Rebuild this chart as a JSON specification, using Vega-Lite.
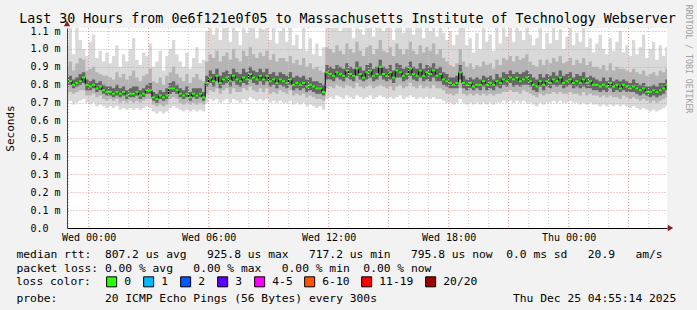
{
"$schema":"https://vega.github.io/schema/vega-lite/v6.json",
"width":600,"height":200,
"autosize":{"type":"none"},
"padding":{"left":67,"top":28,"right":30,"bottom":82},
"background":"#f2f2f2",
"config":{"view":{"fill":"#ffffff","stroke":null},"font":"DejaVu Sans Mono"},
"title":{"text":"Last 30 Hours from 0e6f121e0f05 to Massachusetts Institute of Technology Webserver","font":"DejaVu Sans Mono","fontSize":13.3,"fontWeight":"normal","color":"#000000","anchor":"middle","frame":"group","dx":-19.5,"dy":24,"offset":4},
"data":{"values":[
{"t":"2025-12-23T22:50","a":0.70,"b":0.75,"c":0.79,"m":0.81,"d":0.84,"e":0.90,"f":1.02},
{"t":"2025-12-23T23:00","a":0.71,"b":0.76,"c":0.80,"m":0.82,"d":0.85,"e":0.93,"f":1.12},
{"t":"2025-12-23T23:10","a":0.69,"b":0.75,"c":0.78,"m":0.80,"d":0.83,"e":0.88,"f":0.97},
{"t":"2025-12-23T23:20","a":0.70,"b":0.76,"c":0.79,"m":0.81,"d":0.84,"e":0.92,"f":1.13},
{"t":"2025-12-23T23:30","a":0.71,"b":0.77,"c":0.80,"m":0.82,"d":0.86,"e":0.95,"f":1.05},
{"t":"2025-12-23T23:40","a":0.72,"b":0.77,"c":0.81,"m":0.84,"d":0.87,"e":0.94,"f":1.00},
{"t":"2025-12-23T23:50","a":0.70,"b":0.74,"c":0.77,"m":0.80,"d":0.83,"e":0.88,"f":0.96},
{"t":"2025-12-24T00:00","a":0.69,"b":0.74,"c":0.77,"m":0.79,"d":0.82,"e":0.89,"f":1.04},
{"t":"2025-12-24T00:10","a":0.70,"b":0.75,"c":0.78,"m":0.80,"d":0.83,"e":0.90,"f":1.08},
{"t":"2025-12-24T00:20","a":0.68,"b":0.73,"c":0.76,"m":0.78,"d":0.81,"e":0.87,"f":0.95},
{"t":"2025-12-24T00:30","a":0.69,"b":0.74,"c":0.77,"m":0.79,"d":0.82,"e":0.86,"f":0.99},
{"t":"2025-12-24T00:40","a":0.68,"b":0.72,"c":0.75,"m":0.77,"d":0.80,"e":0.85,"f":0.93},
{"t":"2025-12-24T00:50","a":0.67,"b":0.71,"c":0.74,"m":0.76,"d":0.79,"e":0.85,"f":0.98},
{"t":"2025-12-24T01:00","a":0.68,"b":0.72,"c":0.74,"m":0.76,"d":0.79,"e":0.84,"f":0.92},
{"t":"2025-12-24T01:10","a":0.67,"b":0.71,"c":0.73,"m":0.75,"d":0.78,"e":0.83,"f":0.96},
{"t":"2025-12-24T01:20","a":0.68,"b":0.72,"c":0.74,"m":0.76,"d":0.80,"e":0.87,"f":1.02},
{"t":"2025-12-24T01:30","a":0.66,"b":0.70,"c":0.73,"m":0.75,"d":0.78,"e":0.84,"f":0.90},
{"t":"2025-12-24T01:40","a":0.67,"b":0.71,"c":0.74,"m":0.76,"d":0.79,"e":0.86,"f":0.97},
{"t":"2025-12-24T01:50","a":0.66,"b":0.70,"c":0.72,"m":0.74,"d":0.77,"e":0.83,"f":0.93},
{"t":"2025-12-24T02:00","a":0.67,"b":0.71,"c":0.73,"m":0.75,"d":0.78,"e":0.85,"f":1.00},
{"t":"2025-12-24T02:10","a":0.66,"b":0.70,"c":0.73,"m":0.75,"d":0.79,"e":0.88,"f":1.06},
{"t":"2025-12-24T02:20","a":0.67,"b":0.71,"c":0.74,"m":0.76,"d":0.79,"e":0.84,"f":0.94},
{"t":"2025-12-24T02:30","a":0.66,"b":0.70,"c":0.72,"m":0.74,"d":0.77,"e":0.82,"f":0.91},
{"t":"2025-12-24T02:40","a":0.67,"b":0.71,"c":0.73,"m":0.75,"d":0.78,"e":0.85,"f":0.98},
{"t":"2025-12-24T02:50","a":0.68,"b":0.72,"c":0.75,"m":0.77,"d":0.80,"e":0.86,"f":0.96},
{"t":"2025-12-24T03:00","a":0.67,"b":0.72,"c":0.75,"m":0.77,"d":0.81,"e":0.89,"f":1.03},
{"t":"2025-12-24T03:10","a":0.65,"b":0.69,"c":0.71,"m":0.73,"d":0.76,"e":0.82,"f":0.90},
{"t":"2025-12-24T03:20","a":0.64,"b":0.68,"c":0.70,"m":0.72,"d":0.75,"e":0.81,"f":0.93},
{"t":"2025-12-24T03:30","a":0.65,"b":0.69,"c":0.72,"m":0.74,"d":0.77,"e":0.84,"f":0.99},
{"t":"2025-12-24T03:40","a":0.64,"b":0.68,"c":0.71,"m":0.73,"d":0.76,"e":0.80,"f":0.88},
{"t":"2025-12-24T03:50","a":0.65,"b":0.69,"c":0.72,"m":0.74,"d":0.78,"e":0.85,"f":0.96},
{"t":"2025-12-24T04:00","a":0.67,"b":0.72,"c":0.75,"m":0.78,"d":0.81,"e":0.87,"f":1.00},
{"t":"2025-12-24T04:10","a":0.68,"b":0.73,"c":0.76,"m":0.78,"d":0.82,"e":0.90,"f":1.05},
{"t":"2025-12-24T04:20","a":0.67,"b":0.72,"c":0.75,"m":0.77,"d":0.80,"e":0.86,"f":0.97},
{"t":"2025-12-24T04:30","a":0.66,"b":0.70,"c":0.73,"m":0.75,"d":0.78,"e":0.84,"f":0.93},
{"t":"2025-12-24T04:40","a":0.65,"b":0.69,"c":0.72,"m":0.74,"d":0.77,"e":0.82,"f":0.90},
{"t":"2025-12-24T04:50","a":0.66,"b":0.70,"c":0.73,"m":0.75,"d":0.79,"e":0.86,"f":0.98},
{"t":"2025-12-24T05:00","a":0.65,"b":0.69,"c":0.71,"m":0.73,"d":0.76,"e":0.81,"f":0.89},
{"t":"2025-12-24T05:10","a":0.66,"b":0.70,"c":0.73,"m":0.75,"d":0.78,"e":0.84,"f":0.95},
{"t":"2025-12-24T05:20","a":0.65,"b":0.69,"c":0.72,"m":0.74,"d":0.78,"e":0.86,"f":1.01},
{"t":"2025-12-24T05:30","a":0.66,"b":0.70,"c":0.73,"m":0.75,"d":0.78,"e":0.83,"f":0.92},
{"t":"2025-12-24T05:40","a":0.65,"b":0.69,"c":0.71,"m":0.73,"d":0.76,"e":0.82,"f":0.94},
{"t":"2025-12-24T05:50","a":0.70,"b":0.75,"c":0.79,"m":0.81,"d":0.85,"e":0.93,"f":1.10},
{"t":"2025-12-24T06:00","a":0.72,"b":0.77,"c":0.81,"m":0.84,"d":0.88,"e":0.97,"f":1.15},
{"t":"2025-12-24T06:10","a":0.71,"b":0.76,"c":0.79,"m":0.82,"d":0.86,"e":0.95,"f":1.08},
{"t":"2025-12-24T06:20","a":0.72,"b":0.78,"c":0.82,"m":0.85,"d":0.89,"e":0.99,"f":1.15},
{"t":"2025-12-24T06:30","a":0.70,"b":0.75,"c":0.78,"m":0.81,"d":0.85,"e":0.93,"f":1.05},
{"t":"2025-12-24T06:40","a":0.71,"b":0.77,"c":0.80,"m":0.83,"d":0.87,"e":0.96,"f":1.15},
{"t":"2025-12-24T06:50","a":0.72,"b":0.78,"c":0.81,"m":0.84,"d":0.88,"e":0.98,"f":1.12},
{"t":"2025-12-24T07:00","a":0.70,"b":0.75,"c":0.79,"m":0.82,"d":0.86,"e":0.94,"f":1.04},
{"t":"2025-12-24T07:10","a":0.72,"b":0.78,"c":0.82,"m":0.85,"d":0.89,"e":1.00,"f":1.15},
{"t":"2025-12-24T07:20","a":0.71,"b":0.76,"c":0.80,"m":0.83,"d":0.87,"e":0.95,"f":1.10},
{"t":"2025-12-24T07:30","a":0.70,"b":0.76,"c":0.79,"m":0.82,"d":0.86,"e":0.93,"f":1.02},
{"t":"2025-12-24T07:40","a":0.72,"b":0.78,"c":0.81,"m":0.84,"d":0.89,"e":0.99,"f":1.15},
{"t":"2025-12-24T07:50","a":0.71,"b":0.77,"c":0.80,"m":0.83,"d":0.87,"e":0.96,"f":1.09},
{"t":"2025-12-24T08:00","a":0.73,"b":0.79,"c":0.83,"m":0.86,"d":0.90,"e":1.01,"f":1.15},
{"t":"2025-12-24T08:10","a":0.72,"b":0.77,"c":0.81,"m":0.84,"d":0.88,"e":0.97,"f":1.13},
{"t":"2025-12-24T08:20","a":0.71,"b":0.76,"c":0.80,"m":0.83,"d":0.87,"e":0.95,"f":1.06},
{"t":"2025-12-24T08:30","a":0.72,"b":0.78,"c":0.82,"m":0.85,"d":0.89,"e":0.98,"f":1.15},
{"t":"2025-12-24T08:40","a":0.71,"b":0.76,"c":0.80,"m":0.83,"d":0.87,"e":0.96,"f":1.11},
{"t":"2025-12-24T08:50","a":0.72,"b":0.78,"c":0.82,"m":0.85,"d":0.89,"e":0.99,"f":1.15},
{"t":"2025-12-24T09:00","a":0.70,"b":0.75,"c":0.79,"m":0.82,"d":0.86,"e":0.94,"f":1.05},
{"t":"2025-12-24T09:10","a":0.71,"b":0.76,"c":0.80,"m":0.83,"d":0.87,"e":0.97,"f":1.14},
{"t":"2025-12-24T09:20","a":0.70,"b":0.75,"c":0.78,"m":0.81,"d":0.85,"e":0.93,"f":1.03},
{"t":"2025-12-24T09:30","a":0.71,"b":0.77,"c":0.80,"m":0.83,"d":0.87,"e":0.95,"f":1.10},
{"t":"2025-12-24T09:40","a":0.70,"b":0.76,"c":0.79,"m":0.82,"d":0.86,"e":0.95,"f":1.12},
{"t":"2025-12-24T09:50","a":0.70,"b":0.75,"c":0.78,"m":0.81,"d":0.85,"e":0.93,"f":1.04},
{"t":"2025-12-24T10:00","a":0.71,"b":0.77,"c":0.80,"m":0.83,"d":0.87,"e":0.96,"f":1.15},
{"t":"2025-12-24T10:10","a":0.69,"b":0.74,"c":0.77,"m":0.80,"d":0.84,"e":0.92,"f":1.02},
{"t":"2025-12-24T10:20","a":0.70,"b":0.75,"c":0.78,"m":0.81,"d":0.85,"e":0.94,"f":1.08},
{"t":"2025-12-24T10:30","a":0.69,"b":0.74,"c":0.77,"m":0.80,"d":0.84,"e":0.91,"f":1.00},
{"t":"2025-12-24T10:40","a":0.70,"b":0.75,"c":0.78,"m":0.81,"d":0.85,"e":0.95,"f":1.12},
{"t":"2025-12-24T10:50","a":0.68,"b":0.73,"c":0.76,"m":0.79,"d":0.83,"e":0.90,"f":0.99},
{"t":"2025-12-24T11:00","a":0.69,"b":0.74,"c":0.77,"m":0.80,"d":0.84,"e":0.92,"f":1.06},
{"t":"2025-12-24T11:10","a":0.68,"b":0.73,"c":0.76,"m":0.79,"d":0.82,"e":0.89,"f":0.97},
{"t":"2025-12-24T11:20","a":0.67,"b":0.72,"c":0.75,"m":0.78,"d":0.82,"e":0.90,"f":1.03},
{"t":"2025-12-24T11:30","a":0.68,"b":0.72,"c":0.75,"m":0.78,"d":0.81,"e":0.88,"f":0.96},
{"t":"2025-12-24T11:40","a":0.66,"b":0.71,"c":0.74,"m":0.76,"d":0.80,"e":0.87,"f":1.01},
{"t":"2025-12-24T11:50","a":0.72,"b":0.78,"c":0.83,"m":0.87,"d":0.91,"e":1.01,"f":1.15},
{"t":"2025-12-24T12:00","a":0.73,"b":0.79,"c":0.83,"m":0.86,"d":0.90,"e":1.00,"f":1.15},
{"t":"2025-12-24T12:10","a":0.72,"b":0.78,"c":0.82,"m":0.85,"d":0.89,"e":0.98,"f":1.12},
{"t":"2025-12-24T12:20","a":0.74,"b":0.80,"c":0.84,"m":0.87,"d":0.91,"e":1.02,"f":1.15},
{"t":"2025-12-24T12:30","a":0.73,"b":0.79,"c":0.83,"m":0.86,"d":0.90,"e":0.99,"f":1.10},
{"t":"2025-12-24T12:40","a":0.72,"b":0.78,"c":0.82,"m":0.85,"d":0.89,"e":0.97,"f":1.15},
{"t":"2025-12-24T12:50","a":0.74,"b":0.80,"c":0.84,"m":0.88,"d":0.92,"e":1.03,"f":1.15},
{"t":"2025-12-24T13:00","a":0.73,"b":0.79,"c":0.83,"m":0.86,"d":0.90,"e":1.00,"f":1.13},
{"t":"2025-12-24T13:10","a":0.72,"b":0.78,"c":0.82,"m":0.85,"d":0.89,"e":0.98,"f":1.06},
{"t":"2025-12-24T13:20","a":0.74,"b":0.81,"c":0.85,"m":0.89,"d":0.93,"e":1.04,"f":1.15},
{"t":"2025-12-24T13:30","a":0.73,"b":0.79,"c":0.83,"m":0.86,"d":0.90,"e":0.99,"f":1.11},
{"t":"2025-12-24T13:40","a":0.72,"b":0.78,"c":0.82,"m":0.84,"d":0.88,"e":0.96,"f":1.08},
{"t":"2025-12-24T13:50","a":0.73,"b":0.79,"c":0.83,"m":0.87,"d":0.91,"e":1.01,"f":1.15},
{"t":"2025-12-24T14:00","a":0.74,"b":0.80,"c":0.84,"m":0.88,"d":0.92,"e":1.02,"f":1.15},
{"t":"2025-12-24T14:10","a":0.72,"b":0.78,"c":0.82,"m":0.85,"d":0.89,"e":0.97,"f":1.07},
{"t":"2025-12-24T14:20","a":0.73,"b":0.79,"c":0.83,"m":0.86,"d":0.90,"e":1.00,"f":1.14},
{"t":"2025-12-24T14:30","a":0.74,"b":0.80,"c":0.85,"m":0.90,"d":0.94,"e":1.05,"f":1.15},
{"t":"2025-12-24T14:40","a":0.73,"b":0.79,"c":0.83,"m":0.86,"d":0.90,"e":0.99,"f":1.10},
{"t":"2025-12-24T14:50","a":0.72,"b":0.78,"c":0.82,"m":0.85,"d":0.89,"e":0.98,"f":1.15},
{"t":"2025-12-24T15:00","a":0.73,"b":0.79,"c":0.83,"m":0.87,"d":0.91,"e":1.01,"f":1.12},
{"t":"2025-12-24T15:10","a":0.72,"b":0.77,"c":0.81,"m":0.84,"d":0.88,"e":0.96,"f":1.05},
{"t":"2025-12-24T15:20","a":0.73,"b":0.79,"c":0.84,"m":0.88,"d":0.92,"e":1.03,"f":1.15},
{"t":"2025-12-24T15:30","a":0.74,"b":0.80,"c":0.84,"m":0.87,"d":0.91,"e":1.00,"f":1.13},
{"t":"2025-12-24T15:40","a":0.72,"b":0.78,"c":0.82,"m":0.85,"d":0.89,"e":0.97,"f":1.09},
{"t":"2025-12-24T15:50","a":0.73,"b":0.79,"c":0.83,"m":0.86,"d":0.90,"e":1.00,"f":1.15},
{"t":"2025-12-24T16:00","a":0.74,"b":0.81,"c":0.85,"m":0.89,"d":0.93,"e":1.04,"f":1.15},
{"t":"2025-12-24T16:10","a":0.73,"b":0.79,"c":0.83,"m":0.86,"d":0.90,"e":0.99,"f":1.08},
{"t":"2025-12-24T16:20","a":0.72,"b":0.78,"c":0.82,"m":0.85,"d":0.89,"e":0.97,"f":1.12},
{"t":"2025-12-24T16:30","a":0.73,"b":0.80,"c":0.84,"m":0.88,"d":0.92,"e":1.02,"f":1.15},
{"t":"2025-12-24T16:40","a":0.72,"b":0.78,"c":0.82,"m":0.85,"d":0.89,"e":0.98,"f":1.06},
{"t":"2025-12-24T16:50","a":0.73,"b":0.79,"c":0.83,"m":0.87,"d":0.91,"e":1.01,"f":1.15},
{"t":"2025-12-24T17:00","a":0.72,"b":0.78,"c":0.82,"m":0.86,"d":0.90,"e":0.99,"f":1.10},
{"t":"2025-12-24T17:10","a":0.73,"b":0.80,"c":0.84,"m":0.88,"d":0.92,"e":1.03,"f":1.15},
{"t":"2025-12-24T17:20","a":0.72,"b":0.78,"c":0.82,"m":0.85,"d":0.89,"e":0.97,"f":1.07},
{"t":"2025-12-24T17:30","a":0.72,"b":0.78,"c":0.82,"m":0.86,"d":0.90,"e":1.00,"f":1.14},
{"t":"2025-12-24T17:40","a":0.71,"b":0.77,"c":0.80,"m":0.83,"d":0.87,"e":0.95,"f":1.09},
{"t":"2025-12-24T17:50","a":0.70,"b":0.75,"c":0.79,"m":0.82,"d":0.86,"e":0.93,"f":1.05},
{"t":"2025-12-24T18:00","a":0.70,"b":0.75,"c":0.78,"m":0.81,"d":0.84,"e":0.91,"f":1.10},
{"t":"2025-12-24T18:10","a":0.69,"b":0.74,"c":0.78,"m":0.80,"d":0.84,"e":0.90,"f":1.02},
{"t":"2025-12-24T18:20","a":0.70,"b":0.75,"c":0.78,"m":0.81,"d":0.85,"e":0.92,"f":1.08},
{"t":"2025-12-24T18:30","a":0.72,"b":0.78,"c":0.83,"m":0.87,"d":0.91,"e":1.00,"f":1.15},
{"t":"2025-12-24T18:40","a":0.70,"b":0.75,"c":0.78,"m":0.81,"d":0.85,"e":0.93,"f":1.12},
{"t":"2025-12-24T18:50","a":0.69,"b":0.74,"c":0.77,"m":0.80,"d":0.83,"e":0.90,"f":1.02},
{"t":"2025-12-24T19:00","a":0.70,"b":0.75,"c":0.78,"m":0.81,"d":0.84,"e":0.92,"f":1.06},
{"t":"2025-12-24T19:10","a":0.69,"b":0.74,"c":0.77,"m":0.79,"d":0.83,"e":0.89,"f":0.98},
{"t":"2025-12-24T19:20","a":0.70,"b":0.75,"c":0.78,"m":0.80,"d":0.84,"e":0.91,"f":1.09},
{"t":"2025-12-24T19:30","a":0.69,"b":0.74,"c":0.77,"m":0.80,"d":0.83,"e":0.90,"f":1.00},
{"t":"2025-12-24T19:40","a":0.70,"b":0.75,"c":0.79,"m":0.82,"d":0.85,"e":0.93,"f":1.13},
{"t":"2025-12-24T19:50","a":0.69,"b":0.74,"c":0.77,"m":0.80,"d":0.84,"e":0.91,"f":1.04},
{"t":"2025-12-24T20:00","a":0.70,"b":0.75,"c":0.78,"m":0.81,"d":0.85,"e":0.92,"f":1.08},
{"t":"2025-12-24T20:10","a":0.69,"b":0.74,"c":0.77,"m":0.80,"d":0.83,"e":0.89,"f":0.99},
{"t":"2025-12-24T20:20","a":0.70,"b":0.75,"c":0.79,"m":0.82,"d":0.86,"e":0.94,"f":1.12},
{"t":"2025-12-24T20:30","a":0.70,"b":0.75,"c":0.78,"m":0.81,"d":0.84,"e":0.91,"f":1.03},
{"t":"2025-12-24T20:40","a":0.71,"b":0.76,"c":0.80,"m":0.83,"d":0.87,"e":0.95,"f":1.15},
{"t":"2025-12-24T20:50","a":0.70,"b":0.76,"c":0.79,"m":0.82,"d":0.86,"e":0.94,"f":1.07},
{"t":"2025-12-24T21:00","a":0.71,"b":0.77,"c":0.81,"m":0.84,"d":0.88,"e":0.96,"f":1.13},
{"t":"2025-12-24T21:10","a":0.70,"b":0.76,"c":0.79,"m":0.83,"d":0.86,"e":0.93,"f":1.04},
{"t":"2025-12-24T21:20","a":0.71,"b":0.76,"c":0.80,"m":0.84,"d":0.87,"e":0.96,"f":1.15},
{"t":"2025-12-24T21:30","a":0.70,"b":0.75,"c":0.79,"m":0.82,"d":0.86,"e":0.94,"f":1.10},
{"t":"2025-12-24T21:40","a":0.71,"b":0.77,"c":0.80,"m":0.83,"d":0.87,"e":0.95,"f":1.05},
{"t":"2025-12-24T21:50","a":0.70,"b":0.76,"c":0.80,"m":0.84,"d":0.88,"e":0.97,"f":1.15},
{"t":"2025-12-24T22:00","a":0.70,"b":0.75,"c":0.79,"m":0.82,"d":0.86,"e":0.93,"f":1.08},
{"t":"2025-12-24T22:10","a":0.69,"b":0.74,"c":0.77,"m":0.80,"d":0.84,"e":0.91,"f":1.02},
{"t":"2025-12-24T22:20","a":0.68,"b":0.73,"c":0.76,"m":0.79,"d":0.83,"e":0.90,"f":1.06},
{"t":"2025-12-24T22:30","a":0.70,"b":0.75,"c":0.79,"m":0.82,"d":0.86,"e":0.94,"f":1.12},
{"t":"2025-12-24T22:40","a":0.69,"b":0.74,"c":0.77,"m":0.80,"d":0.84,"e":0.91,"f":1.00},
{"t":"2025-12-24T22:50","a":0.70,"b":0.75,"c":0.79,"m":0.82,"d":0.86,"e":0.94,"f":1.09},
{"t":"2025-12-24T23:00","a":0.70,"b":0.75,"c":0.78,"m":0.81,"d":0.85,"e":0.92,"f":1.03},
{"t":"2025-12-24T23:10","a":0.71,"b":0.76,"c":0.80,"m":0.83,"d":0.87,"e":0.95,"f":1.14},
{"t":"2025-12-24T23:20","a":0.70,"b":0.75,"c":0.79,"m":0.82,"d":0.85,"e":0.93,"f":1.05},
{"t":"2025-12-24T23:30","a":0.71,"b":0.76,"c":0.80,"m":0.84,"d":0.88,"e":0.96,"f":1.11},
{"t":"2025-12-24T23:40","a":0.70,"b":0.75,"c":0.78,"m":0.81,"d":0.85,"e":0.92,"f":1.00},
{"t":"2025-12-24T23:50","a":0.70,"b":0.75,"c":0.79,"m":0.82,"d":0.86,"e":0.93,"f":1.07},
{"t":"2025-12-25T00:00","a":0.71,"b":0.76,"c":0.80,"m":0.83,"d":0.87,"e":0.95,"f":1.12},
{"t":"2025-12-25T00:10","a":0.70,"b":0.75,"c":0.78,"m":0.81,"d":0.84,"e":0.91,"f":1.02},
{"t":"2025-12-25T00:20","a":0.70,"b":0.75,"c":0.79,"m":0.82,"d":0.86,"e":0.94,"f":1.09},
{"t":"2025-12-25T00:30","a":0.69,"b":0.74,"c":0.78,"m":0.81,"d":0.85,"e":0.92,"f":1.04},
{"t":"2025-12-25T00:40","a":0.70,"b":0.76,"c":0.79,"m":0.83,"d":0.87,"e":0.95,"f":1.13},
{"t":"2025-12-25T00:50","a":0.69,"b":0.74,"c":0.78,"m":0.81,"d":0.84,"e":0.91,"f":1.01},
{"t":"2025-12-25T01:00","a":0.70,"b":0.75,"c":0.78,"m":0.82,"d":0.85,"e":0.93,"f":1.06},
{"t":"2025-12-25T01:10","a":0.69,"b":0.74,"c":0.77,"m":0.80,"d":0.84,"e":0.90,"f":0.98},
{"t":"2025-12-25T01:20","a":0.69,"b":0.74,"c":0.77,"m":0.80,"d":0.83,"e":0.90,"f":1.03},
{"t":"2025-12-25T01:30","a":0.68,"b":0.73,"c":0.76,"m":0.79,"d":0.82,"e":0.89,"f":1.08},
{"t":"2025-12-25T01:40","a":0.69,"b":0.74,"c":0.77,"m":0.80,"d":0.84,"e":0.91,"f":1.00},
{"t":"2025-12-25T01:50","a":0.68,"b":0.73,"c":0.76,"m":0.79,"d":0.82,"e":0.88,"f":0.97},
{"t":"2025-12-25T02:00","a":0.69,"b":0.74,"c":0.78,"m":0.81,"d":0.84,"e":0.92,"f":1.06},
{"t":"2025-12-25T02:10","a":0.68,"b":0.73,"c":0.76,"m":0.79,"d":0.82,"e":0.88,"f":0.99},
{"t":"2025-12-25T02:20","a":0.69,"b":0.73,"c":0.77,"m":0.80,"d":0.83,"e":0.90,"f":1.04},
{"t":"2025-12-25T02:30","a":0.68,"b":0.72,"c":0.76,"m":0.78,"d":0.82,"e":0.89,"f":1.10},
{"t":"2025-12-25T02:40","a":0.69,"b":0.74,"c":0.77,"m":0.80,"d":0.83,"e":0.89,"f":0.98},
{"t":"2025-12-25T02:50","a":0.68,"b":0.73,"c":0.76,"m":0.79,"d":0.82,"e":0.88,"f":1.02},
{"t":"2025-12-25T03:00","a":0.67,"b":0.72,"c":0.76,"m":0.78,"d":0.81,"e":0.87,"f":0.96},
{"t":"2025-12-25T03:10","a":0.68,"b":0.73,"c":0.76,"m":0.79,"d":0.83,"e":0.89,"f":1.05},
{"t":"2025-12-25T03:20","a":0.67,"b":0.72,"c":0.75,"m":0.78,"d":0.81,"e":0.87,"f":0.97},
{"t":"2025-12-25T03:30","a":0.66,"b":0.71,"c":0.74,"m":0.77,"d":0.80,"e":0.86,"f":1.01},
{"t":"2025-12-25T03:40","a":0.67,"b":0.72,"c":0.75,"m":0.78,"d":0.81,"e":0.88,"f":1.08},
{"t":"2025-12-25T03:50","a":0.66,"b":0.71,"c":0.74,"m":0.76,"d":0.79,"e":0.85,"f":0.95},
{"t":"2025-12-25T04:00","a":0.65,"b":0.70,"c":0.73,"m":0.76,"d":0.79,"e":0.86,"f":1.00},
{"t":"2025-12-25T04:10","a":0.66,"b":0.71,"c":0.74,"m":0.77,"d":0.80,"e":0.87,"f":1.04},
{"t":"2025-12-25T04:20","a":0.65,"b":0.70,"c":0.73,"m":0.76,"d":0.79,"e":0.85,"f":0.94},
{"t":"2025-12-25T04:30","a":0.66,"b":0.71,"c":0.74,"m":0.77,"d":0.81,"e":0.88,"f":1.02},
{"t":"2025-12-25T04:40","a":0.67,"b":0.72,"c":0.75,"m":0.78,"d":0.81,"e":0.87,"f":0.96},
{"t":"2025-12-25T04:50","a":0.68,"b":0.73,"c":0.77,"m":0.80,"d":0.83,"e":0.89,"f":1.01},
{"t":"2025-12-25T05:00","a":0.68,"b":0.73,"c":0.77,"m":0.80,"d":0.83,"e":0.89,"f":1.01}
]},
"encoding":{
"x":{"field":"t","type":"temporal",
"scale":{"domain":[{"year":2025,"month":12,"date":23,"hours":22,"minutes":55,"seconds":14},{"year":2025,"month":12,"date":25,"hours":4,"minutes":55,"seconds":14}]},
"axis":{"tickCount":30,
"labelExpr":"hours(datum.value) % 6 == 0 ? timeFormat(datum.value, '%a %H:%M') : ''",
"labelOverlap":false,"labelFlush":false,"labelBound":false,
"labelFont":"DejaVu Sans Mono","labelFontSize":10,"labelColor":"#000000","labelPadding":4,
"ticks":false,"domainColor":"#000000","domainWidth":1,"grid":false,"zindex":1,
"title":["median rtt:\u00a0\u00a0807.2 us avg\u00a0\u00a0\u00a0925.8 us max\u00a0\u00a0\u00a0717.2 us min\u00a0\u00a0\u00a0795.8 us now\u00a0\u00a00.0 ms sd\u00a0\u00a0\u00a020.9\u00a0\u00a0\u00a0am/s",
"packet loss: 0.00 % avg\u00a0\u00a0\u00a00.00 % max\u00a0\u00a0\u00a00.00 % min\u00a0\u00a00.00 % now",
"\u200b",
"probe:\u00a0\u00a0\u00a0\u00a0\u00a0\u00a0\u00a020 ICMP Echo Pings (56 Bytes) every 300s\u00a0\u00a0\u00a0\u00a0\u00a0\u00a0\u00a0\u00a0\u00a0\u00a0\u00a0\u00a0\u00a0\u00a0\u00a0\u00a0\u00a0\u00a0\u00a0\u00a0Thu Dec 25 04:55:14 2025"],
"titleFont":"DejaVu Sans Mono","titleFontSize":11.3,"titleFontWeight":"normal","titleColor":"#000000",
"titleAnchor":"start","titleAlign":"left","titleX":-51,"titleY":29,"titleBaseline":"alphabetic","titleLineHeight":14.7}}
},
"layer":[
{"mark":{"type":"area","interpolate":"step-after","color":"#d9d9d9","clip":true},
 "encoding":{"y":{"field":"a","type":"quantitative","scale":{"domain":[0,1.117],"nice":false,"zero":false},
   "axis":{"values":[0,0.1,0.2,0.3,0.4,0.5,0.6,0.7,0.8,0.9,1.0,1.1],"tickCount":24,
     "labelExpr":"datum.value == 0 ? '0.0' : format(datum.value, '.1f') + ' m'",
     "labelFont":"DejaVu Sans Mono","labelFontSize":10,"labelColor":"#000000","labelAlign":"left","labelPadding":37,"labelFlush":false,"labelOverlap":false,
     "ticks":false,"domainColor":"#444444","grid":true,"gridColor":"#e39c9c","gridDash":[1,2],"gridWidth":1,"zindex":1,
     "title":"Seconds","titleFont":"DejaVu Sans Mono","titleFontSize":11,"titleFontWeight":"normal","titleColor":"#000000",
     "titleX":-57,"titleY":100,"titleAngle":270,"titleAlign":"center","titleBaseline":"middle"}},
  "y2":{"field":"f"}}},
{"mark":{"type":"area","interpolate":"step-after","color":"#b5b5b5","clip":true},
 "encoding":{"y":{"field":"b","type":"quantitative"},"y2":{"field":"e"}}},
{"mark":{"type":"area","interpolate":"step-after","color":"#666666","clip":true},
 "encoding":{"y":{"field":"c","type":"quantitative"},"y2":{"field":"d"}}},
{"mark":{"type":"line","interpolate":"step-after","color":"#000000","strokeWidth":1,"clip":true},
 "encoding":{"y":{"field":"m","type":"quantitative"}}},
{"mark":{"type":"tick","orient":"horizontal","size":3.4,"thickness":2,"xOffset":1.67,"opacity":1,"clip":true},
 "encoding":{"y":{"field":"m","type":"quantitative"},
  "color":{"datum":"0","type":"nominal",
   "scale":{"domain":["0","1","2","3","4-5","6-10","11-19","20/20"],"range":["#26ff00","#00b8ff","#0059ff","#5e00ff","#ff00ff","#ff5500","#ff0000","#a10000"]},
   "legend":{"orient":"none","legendX":-51,"legendY":248,"direction":"horizontal","title":"loss color:","titleOrient":"left",
     "titleFont":"DejaVu Sans Mono","titleFontSize":11.3,"titleFontWeight":"normal","titleColor":"#000000","titlePadding":15,
     "symbolType":"square","symbolSize":100,"symbolStrokeColor":"#000000","symbolStrokeWidth":1,"symbolOpacity":1,
     "labelFont":"DejaVu Sans Mono","labelFontSize":11.3,"labelColor":"#000000","labelOffset":7,"columnPadding":9}}}},
{"data":{"values":[{"t":"2025-12-23T23:00"},{"t":"2025-12-24T01:00"},{"t":"2025-12-24T02:00"},{"t":"2025-12-24T04:00"},{"t":"2025-12-24T05:00"},{"t":"2025-12-24T07:00"},{"t":"2025-12-24T08:00"},{"t":"2025-12-24T10:00"},{"t":"2025-12-24T11:00"},{"t":"2025-12-24T13:00"},{"t":"2025-12-24T14:00"},{"t":"2025-12-24T16:00"},{"t":"2025-12-24T17:00"},{"t":"2025-12-24T19:00"},{"t":"2025-12-24T20:00"},{"t":"2025-12-24T22:00"},{"t":"2025-12-24T23:00"},{"t":"2025-12-25T01:00"},{"t":"2025-12-25T02:00"},{"t":"2025-12-25T04:00"}]},
 "mark":{"type":"rule","color":"#cccccc","strokeDash":[1,2],"strokeWidth":1},
 "encoding":{}},
{"data":{"values":[{"t":"2025-12-24T00:00"},{"t":"2025-12-24T03:00"},{"t":"2025-12-24T06:00"},{"t":"2025-12-24T09:00"},{"t":"2025-12-24T12:00"},{"t":"2025-12-24T15:00"},{"t":"2025-12-24T18:00"},{"t":"2025-12-24T21:00"},{"t":"2025-12-25T00:00"},{"t":"2025-12-25T03:00"}]},
 "mark":{"type":"rule","color":"#e39c9c","strokeDash":[1,2],"strokeWidth":1},
 "encoding":{}},
{"data":{"values":[{"t":"2025-12-23T22:55:14","v":1.142}]},
 "mark":{"type":"point","shape":"triangle-up","filled":true,"size":40,"color":"#8b1f1f","opacity":1},
 "encoding":{"y":{"field":"v","type":"quantitative"}}},
{"data":{"values":[{"t":"2025-12-25T05:05:40","v":0}]},
 "mark":{"type":"point","shape":"triangle-right","filled":true,"size":40,"color":"#8b1f1f","opacity":1},
 "encoding":{"y":{"field":"v","type":"quantitative"}}},
{"data":{"values":[{"t":"2025-12-25T05:58:14","v":0.9436,"label":"RRDTOOL / TOBI OETIKER"}]},
 "mark":{"type":"text","angle":90,"font":"DejaVu Sans Mono","fontSize":8.2,"color":"#a0a0a0","align":"center","baseline":"middle"},
 "encoding":{"y":{"field":"v","type":"quantitative"},"text":{"field":"label"}}}
]
}
